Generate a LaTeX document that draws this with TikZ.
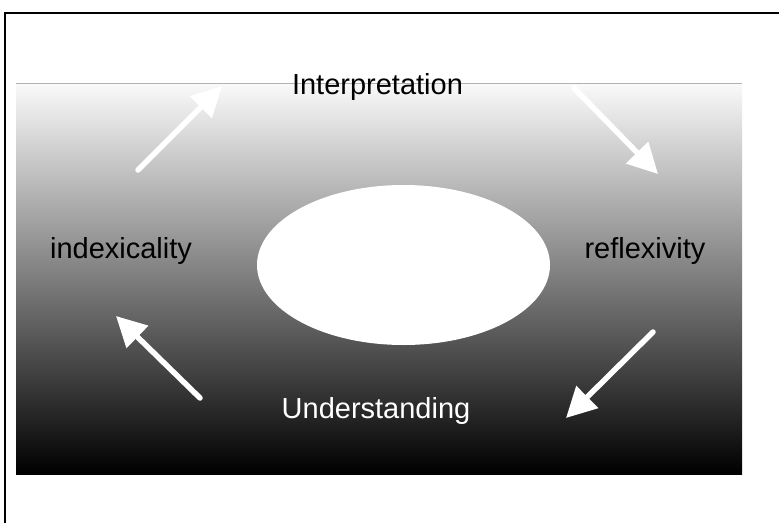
\documentclass[tikz,border=0pt]{standalone}
\usepackage{fontspec}
\setmainfont{Liberation Sans}
\usetikzlibrary{arrows.meta,shapes.geometric}
\begin{document}
\begin{tikzpicture}[x=1pt,y=-1pt,
  lbl/.style={font=\fontsize{29}{31}\selectfont, inner sep=0pt, anchor=base},
  warrow/.style={draw=white, line width=5.5pt, line cap=round, -{Triangle[length=30pt,width=30pt]}}]
\useasboundingbox (0,0) rectangle (779,525);
\fill[white] (0,0) rectangle (779,525);
% frame (left and top edges)
\draw[line width=1.3pt] (5,523) -- (5,13) -- (779,13);
% gradient panel
\shade[top color=gray!4, bottom color=black] (16,83) rectangle (742,474);
\draw[gray!60, line width=1pt] (16,83) -- (742,83);
% central ellipse
\node[ellipse, fill=white, minimum width=293pt, minimum height=160pt, inner sep=0pt] (core) at (403.5,265) {};
% labels
\node[lbl] (interp) at (377.5,94) {Interpretation};
\node[lbl] (index) at (121,258) {indexicality};
\node[lbl] (reflex) at (645,258) {reflexivity};
\node[lbl, text=white] (under) at (376,418) {Understanding};
% arrow endpoints
\coordinate (a1s) at (138,170); \coordinate (a1e) at (222,86);
\coordinate (a2s) at (574,88);  \coordinate (a2e) at (658,174);
\coordinate (a3s) at (653,332); \coordinate (a3e) at (566,418);
\coordinate (a4s) at (200,398); \coordinate (a4e) at (116,316);
\draw[warrow] (a1s) -- (a1e);
\draw[warrow] (a2s) -- (a2e);
\draw[warrow] (a3s) -- (a3e);
\draw[warrow] (a4s) -- (a4e);
\end{tikzpicture}
\end{document}
